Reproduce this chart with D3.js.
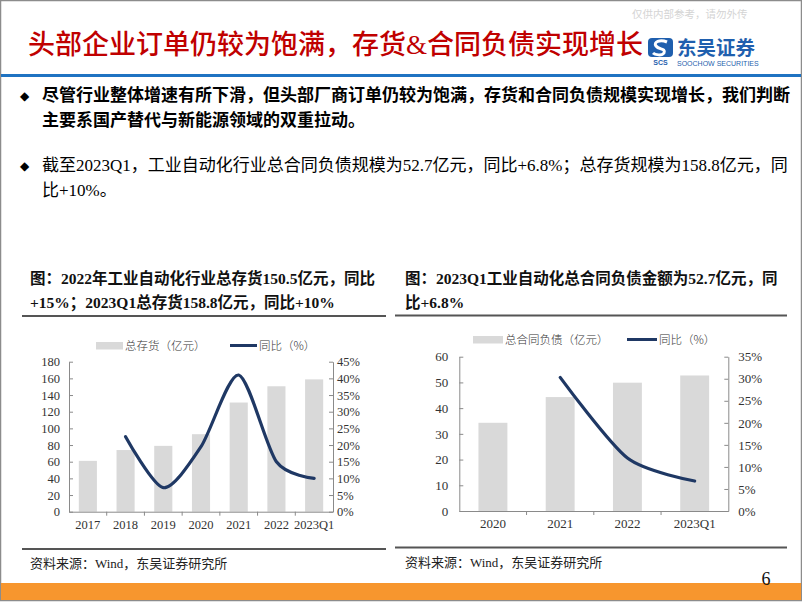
<!DOCTYPE html>
<html><head><meta charset="utf-8">
<script src="https://cdn.jsdelivr.net/npm/d3@7"></script>
<style>body{margin:0;background:#fff}svg{display:block}</style>
</head><body><svg id="c" width="802" height="602"></svg>
<script>
// ---- data ----
const invCategories = ["2017","2018","2019","2020","2021","2022","2023Q1"];
const invValues = [61, 74, 79, 93, 131, 150.5, 158.8];
const invYoY = [null, 22.5, 7.2, 19.5, 41, 15, 10];
const invLeftTicks = [0,20,40,60,80,100,120,140,160,180];
const invRightTicks = [0,5,10,15,20,25,30,35,40,45];

const liabCategories = ["2020","2021","2022","2023Q1"];
const liabValues = [34.3, 44.3, 49.9, 52.7];
const liabYoY = [null, 30.3, 12, 6.8];
const liabLeftTicks = [0,10,20,30,40,50,60];
const liabRightTicks = [0,5,10,15,20,25,30,35];

const pageTitle = "头部企业订单仍较为饱满，存货&合同负债实现增长";
const bullets = [
  {bold:true, lines:["尽管行业整体增速有所下滑，但头部厂商订单仍较为饱满，存货和合同负债规模实现增长，我们判断","主要系国产替代与新能源领域的双重拉动。"]},
  {bold:false, lines:["截至2023Q1，工业自动化行业总合同负债规模为52.7亿元，同比+6.8%；总存货规模为158.8亿元，同","比+10%。"]}
];
const chart1Title = ["图：2022年工业自动化行业总存货150.5亿元，同比","+15%；2023Q1总存货158.8亿元，同比+10%"];
const chart2Title = ["图：2023Q1工业自动化总合同负债金额为52.7亿元，同","比+6.8%"];
const sourceText = "资料来源：Wind，东吴证券研究所";

const svg = d3.select("#c");
const SERIF = "'Liberation Serif','Times New Roman','Noto Sans CJK SC',serif";
const CJK = "'Liberation Serif','Noto Sans CJK SC',sans-serif";

// ---- page frame ----
svg.append("rect").attr("x",0.5).attr("y",0.5).attr("width",801).attr("height",600)
  .attr("fill","#fff").attr("stroke","#8c8c8c").attr("stroke-width",1.5);
svg.append("rect").attr("x",1).attr("y",583).attr("width",800).attr("height",17).attr("fill","#f7962e");
svg.append("rect").attr("x",1).attr("y",74).attr("width",800).attr("height",3).attr("fill","#1f73c2");

// watermark
svg.append("text").attr("x",632).attr("y",18).text("仅供内部参考，请勿外传")
  .attr("font-family",CJK).attr("font-size",10.5).attr("fill","#d4d4d4");

// title
svg.append("text").attr("x",28).attr("y",54).text(pageTitle)
  .attr("font-family",CJK).attr("font-size",27).attr("font-weight",500).attr("fill","#c00000");

// logo
const logo = svg.append("g");
logo.append("rect").attr("x",648).attr("y",38).attr("width",25).attr("height",19).attr("rx",4).attr("fill","#1f5fae");
logo.append("path").attr("d","M667,42 C660,39 653,42 656,46 C659,50 666,48 664,53 C662,56 655,55 653,53")
  .attr("fill","none").attr("stroke","#fff").attr("stroke-width",3);
logo.append("text").attr("x",660.5).attr("y",65).attr("text-anchor","middle").text("SCS")
  .attr("font-family","'Liberation Sans',sans-serif").attr("font-weight","bold").attr("font-size",7).attr("fill","#1f5fae");
logo.append("text").attr("x",677).attr("y",54.5).text("东吴证券")
  .attr("font-family","'Noto Sans CJK SC'").attr("font-weight","bold").attr("font-size",19.5).attr("fill","#1f5fae");
logo.append("text").attr("x",677).attr("y",66).text("SOOCHOW SECURITIES")
  .attr("font-family","'Liberation Sans',sans-serif").attr("font-size",7).attr("fill","#1f5fae");

// bullets
const bulletY = [[101,126],[171,196]];
bullets.forEach((b,i)=>{
  svg.append("text").attr("x",20).attr("y",bulletY[i][0]-1).text("◆")
    .attr("font-family","'DejaVu Sans'").attr("font-size",12).attr("fill","#000");
  b.lines.forEach((ln,j)=>{
    svg.append("text").attr("x",42).attr("y",bulletY[i][j]).text(ln)
      .attr("font-family",CJK).attr("font-size",17).attr("font-weight",b.bold?"bold":"normal").attr("fill","#000");
  });
});

// chart titles
function chartTitle(lines,x,y){
  lines.forEach((ln,j)=>svg.append("text").attr("x",x).attr("y",y+j*24).text(ln)
    .attr("font-family",CJK).attr("font-size",15.5).attr("font-weight","bold").attr("fill","#111"));
}
chartTitle(chart1Title,30,284);
chartTitle(chart2Title,405,284);
// separators
[[22,386,316],[395,787,315.5],[22,386,549],[395,787,547.5]].forEach(l=>
  svg.append("line").attr("x1",l[0]).attr("x2",l[1]).attr("y1",l[2]).attr("y2",l[2]).attr("stroke","#555").attr("stroke-width",2));
svg.append("text").attr("x",30).attr("y",568).text(sourceText).attr("font-family",CJK).attr("font-size",13).attr("fill","#222");
svg.append("text").attr("x",405).attr("y",567).text(sourceText).attr("font-family",CJK).attr("font-size",13).attr("fill","#222");
svg.append("text").attr("x",766).attr("y",585).attr("text-anchor","middle").text("6").attr("font-family",SERIF).attr("font-size",18).attr("fill","#111");

// ---- chart drawing ----
function drawChart(o){
  const g = svg.append("g");
  const x = d3.scaleBand().domain(o.cats).range([o.x0,o.x1]).padding(0);
  const yL = d3.scaleLinear().domain([0,o.lTicks[o.lTicks.length-1]]).range([o.yB,o.yT]);
  const yR = d3.scaleLinear().domain([0,o.rTicks[o.rTicks.length-1]]).range([o.yB,o.yT]);
  const bw = x.bandwidth()*o.barFrac;
  g.selectAll("rect.bar").data(o.vals).enter().append("rect")
    .attr("x",(d,i)=>x(o.cats[i])+x.bandwidth()/2-bw/2).attr("width",bw)
    .attr("y",d=>yL(d)).attr("height",d=>o.yB-yL(d)).attr("fill","#d9d9d9");
  const pts = o.yoy.map((v,i)=>v==null?null:[x(o.cats[i])+x.bandwidth()/2, yR(v)]).filter(p=>p);
  g.append("path").attr("d",d3.line().curve(d3.curveCardinal.tension(0.2))(pts))
    .attr("fill","none").attr("stroke","#1f3864").attr("stroke-width",3.2).attr("stroke-linecap","round");
  const axStyle = sel=>{
    sel.selectAll("path.domain").attr("stroke","#8a8a8a");
    sel.selectAll("line").attr("stroke","#8a8a8a");
    sel.selectAll("text").attr("font-family",SERIF).attr("font-size",o.fs).attr("fill","#333");
  };
  g.append("g").attr("transform",`translate(${o.x0},0)`)
    .call(d3.axisLeft(yL).tickValues(o.lTicks).tickSizeInner(-4).tickSizeOuter(0).tickPadding(o.lPad))
    .call(axStyle);
  g.append("g").attr("transform",`translate(${o.x1},0)`)
    .call(d3.axisRight(yR).tickValues(o.rTicks).tickFormat(d=>d+"%").tickSizeInner(-4).tickSizeOuter(0).tickPadding(o.rPad))
    .call(axStyle);
  const xa = g.append("g").attr("transform",`translate(0,${o.yB})`)
    .call(d3.axisBottom(x).tickSize(0).tickPadding(o.xPad)).call(axStyle);
  xa.selectAll("path.domain").attr("stroke","#8a8a8a");
  // boundary ticks
  g.selectAll("line.bt").data(o.cats.slice(1)).enter().append("line")
    .attr("x1",d=>x(d)).attr("x2",d=>x(d)).attr("y1",o.yB).attr("y2",o.yB+4).attr("stroke","#8a8a8a");
  // legend
  const L = o.leg;
  g.append("rect").attr("x",L.rx).attr("y",L.y-3.5).attr("width",L.rw).attr("height",7.5).attr("fill","#d9d9d9");
  g.append("text").attr("x",L.rx+L.rw+2).attr("y",L.y+4).text(L.t1)
    .attr("font-family","'Noto Sans CJK SC'").attr("font-weight",300).attr("font-size",11.5).attr("fill","#333");
  g.append("line").attr("x1",L.lx).attr("x2",L.lx+L.lw).attr("y1",L.y).attr("y2",L.y).attr("stroke","#1f3864").attr("stroke-width",3);
  g.append("text").attr("x",L.lx+L.lw+2).attr("y",L.y+4).text(L.t2)
    .attr("font-family","'Noto Sans CJK SC'").attr("font-weight",300).attr("font-size",11.5).attr("fill","#333");
}

drawChart({cats:invCategories, vals:invValues, yoy:invYoY, lTicks:invLeftTicks, rTicks:invRightTicks,
  x0:69, x1:333, yT:361.7, yB:511.7, barFrac:0.48, fs:12.5, lPad:9, rPad:4, xPad:8,
  leg:{rx:96, rw:27, lx:230, lw:27, y:345.5, t1:"总存货（亿元）", t2:"同比（%）"}});
drawChart({cats:liabCategories, vals:liabValues, yoy:liabYoY, lTicks:liabLeftTicks, rTicks:liabRightTicks,
  x0:459.3, x1:728.3, yT:356.7, yB:511, barFrac:0.43, fs:13, lPad:11, rPad:10, xPad:8,
  leg:{rx:473, rw:30, lx:627, lw:30, y:339.5, t1:"总合同负债（亿元）", t2:"同比（%）"}});
</script></body></html>
